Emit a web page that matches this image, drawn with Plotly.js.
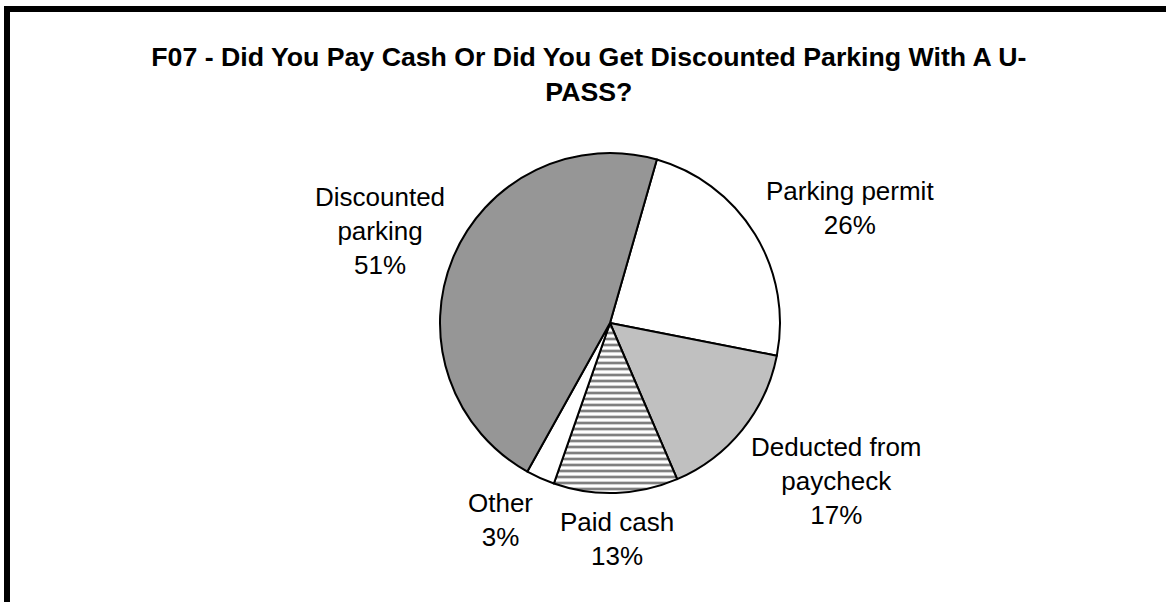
<!DOCTYPE html>
<html>
<head>
<meta charset="utf-8">
<script src="https://cdn.plot.ly/plotly-3.0.1.min.js"></script>
<style>
  html, body { margin: 0; padding: 0; background: #fff; }
  #chart { position: absolute; left: 0; top: 0; width: 1166px; height: 602px; }
  #frame { position: absolute; left: 4px; top: 6px; width: 1200px; height: 700px;
           border-left: 6px solid #000; border-top: 6px solid #000; pointer-events: none; }
</style>
</head>
<body>
<div id="chart"></div>
<div id="frame"></div>
<script>
const chartTitle = 'F07 - Did You Pay Cash Or Did You Get Discounted Parking With A U-<br>PASS?';
const categories = ['Parking permit', 'Deducted from<br>paycheck', 'Paid cash', 'Other', 'Discounted<br>parking'];
const percents = [26, 17, 13, 3, 51];
const fillColors = ['#ffffff', '#c0c0c0', '#ffffff', '#ffffff', '#969696'];
const patternShapes = ['', '', '-', '', ''];

// layout: label nudges (pixels) from each slice's rim midpoint
const labelNudge = [[95, -26], [94, 51], [1, 46], [-40, 42], [-73, -27]];

const W = 1166, H = 602;
const cx = 610, cy = 323, r = 170;
const startAngle = 16;
const FONT = 'Liberation Sans, Arial, sans-serif';

const trace = {
  type: 'pie',
  labels: categories,
  values: percents,
  sort: false,
  direction: 'clockwise',
  rotation: startAngle,
  textinfo: 'none',
  hoverinfo: 'label+value',
  showlegend: false,
  marker: {
    colors: fillColors,
    line: { color: '#000', width: 2 },
    pattern: { shape: patternShapes, fgcolor: '#808080', bgcolor: '#ffffff', size: 6, solidity: 0.45 }
  },
  domain: { x: [(cx - r) / W, (cx + r) / W], y: [(H - cy - r) / H, (H - cy + r) / H] }
};

// labels placed at each slice's middle angle, computed from the data
const total = percents.reduce((a, b) => a + b, 0);
let acc = startAngle;
const annotations = percents.map((v, i) => {
  const sweep = v / total * 360;
  const mid = (acc + sweep / 2) * Math.PI / 180;
  acc += sweep;
  const px = cx + r * Math.sin(mid) + labelNudge[i][0];
  const py = cy - r * Math.cos(mid) + labelNudge[i][1];
  return {
    xref: 'paper', yref: 'paper',
    x: px / W, y: 1 - py / H,
    xanchor: 'center', yanchor: 'middle',
    text: categories[i] + '<br>' + v + '%',
    showarrow: false,
    align: 'center',
    font: { family: FONT, size: 26, color: '#000' }
  };
});

const layout = {
  width: W, height: H,
  margin: { l: 0, r: 0, t: 0, b: 0 },
  paper_bgcolor: '#ffffff',
  font: { family: FONT, color: '#000' },
  title: {
    text: '<b>' + chartTitle + '</b>',
    font: { family: FONT, size: 26.7, color: '#000' },
    x: 0.505, xanchor: 'center', y: 0.89, yanchor: 'top'
  },
  annotations: annotations
};

Plotly.newPlot('chart', [trace], layout, { staticPlot: true });
</script>
</body>
</html>
